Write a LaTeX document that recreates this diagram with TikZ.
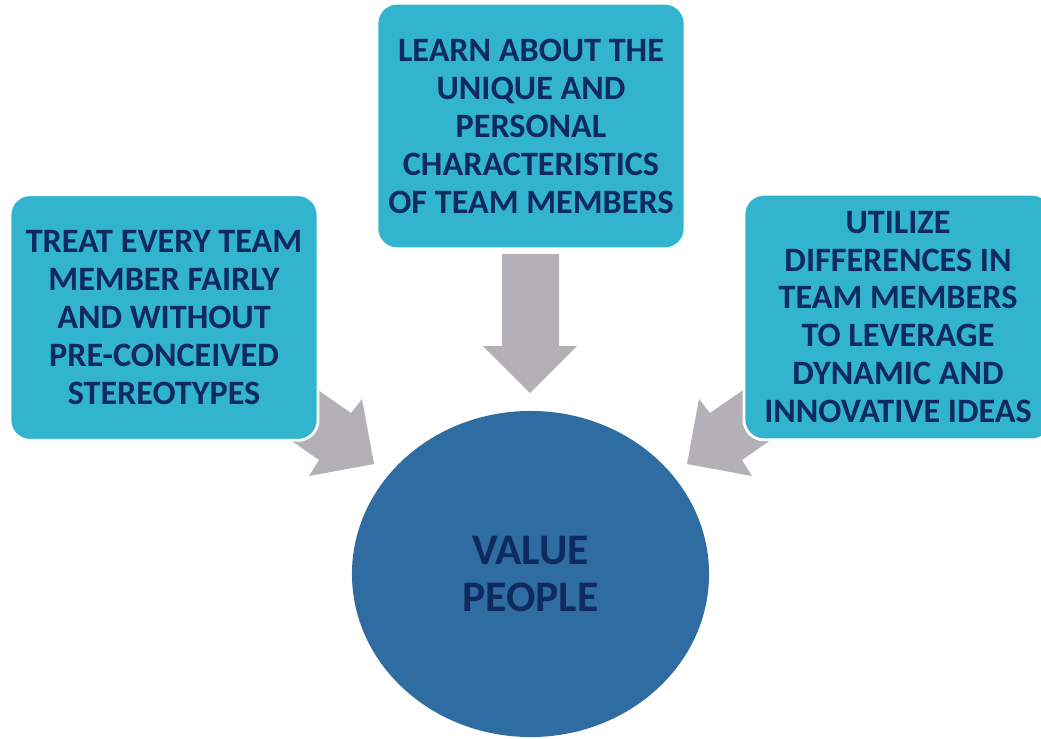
\documentclass[tikz,border=0pt]{standalone}
\usepackage{fontspec}
\setmainfont{Carlito}
\usepackage{tikz}
\usetikzlibrary{math}
\usetikzlibrary{shapes.geometric,positioning}
\definecolor{boxblue}{HTML}{33B4CE}
\definecolor{navytext}{HTML}{0F2A5F}
\definecolor{valueblue}{HTML}{2F6CA2}
\definecolor{arrowgray}{HTML}{B3B1B6}

\begin{document}
\begin{tikzpicture}[x=0.025cm,y=-0.025cm]

\tikzmath{
	\W = 7.7cm;
	\H = 6.14cm;
}

\tikzset{idea box/.style={
    rectangle, rounded corners=0.5cm,
    fill=boxblue, draw=white, line width=2pt,
    minimum width=\W, minimum height=\H,
    align=center, inner sep=0pt,
    text=navytext,
    font=\fontsize{24.3}{27}\selectfont\bfseries
  },
  value node/.style={
    ellipse, fill=valueblue, draw=none,
    minimum width=8.925cm, minimum height=8.15cm,
    align=center, inner sep=0pt,
    text=navytext,
    font=\fontsize{31}{33.4}\selectfont\bfseries
  },
  block arrow/.style={fill=arrowgray, draw=none}
}

\clip (0,0) rectangle (1041,738);

% block arrows (drawn first, the boxes cover their tails)
\fill[block arrow] (502,254) -- (559,254) -- (559,346) -- (577,346)
  -- (530,393) -- (483,346) -- (502,346) -- cycle;
\fill[block arrow] (269,356) -- (351,413) -- (362,399) -- (374,464)
  -- (309,476) -- (319,460) -- (237,403) -- cycle;
\fill[block arrow] (792,356) -- (710,413) -- (699,399) -- (687,464)
  -- (752,476) -- (742,460) -- (824,403) -- cycle;

\node[value node] (value) at (530.5,574) {VALUE\\PEOPLE};

\node[idea box] (learn) at (531,126)
  {LEARN ABOUT THE\\UNIQUE AND\\PERSONAL\\CHARACTERISTICS\\OF TEAM MEMBERS};
\node[idea box] (treat) at (164,317.5)
  {TREAT EVERY TEAM\\MEMBER FAIRLY\\AND WITHOUT\\PRE-CONCEIVED\\STEREOTYPES};
\node[idea box] (utilize) at (898,317)
  {UTILIZE\\DIFFERENCES IN\\TEAM MEMBERS\\TO LEVERAGE\\DYNAMIC AND\\INNOVATIVE IDEAS};

\end{tikzpicture}
\end{document}
